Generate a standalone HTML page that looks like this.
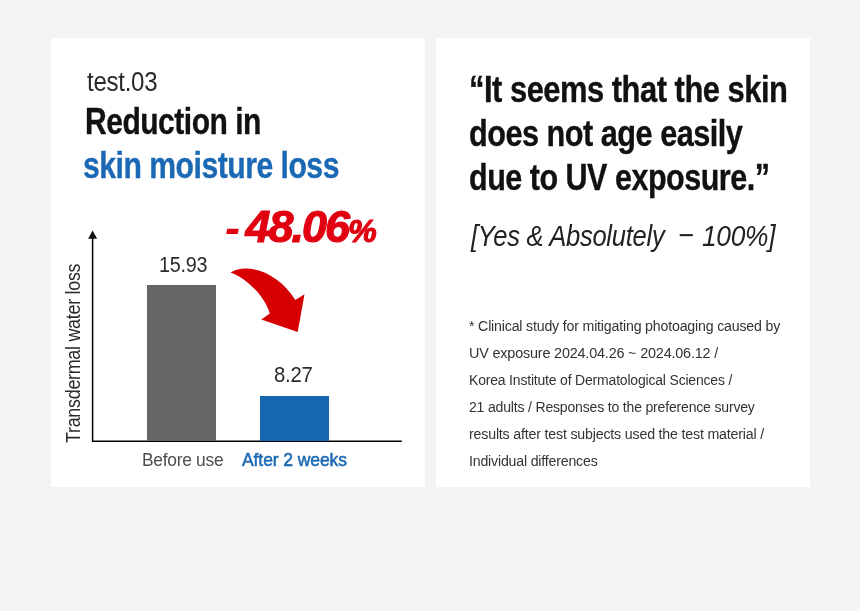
<!DOCTYPE html>
<html lang="en">
<head>
<meta charset="utf-8">
<title>test.03 Reduction in skin moisture loss</title>
<style>
  html, body { margin: 0; padding: 0; }
  body {
    width: 860px; height: 611px; overflow: hidden; position: relative;
    background: #f3f3f3;
    font-family: "Liberation Sans", "Noto Sans CJK KR", sans-serif;
    color: #111;
  }
  .card { position: absolute; top: 38px; height: 449px; width: 374px; background: #fff; }
  #card1 { left: 51px; }
  #card2 { left: 436px; }
  .t { position: absolute; white-space: nowrap; transform-origin: 0 0; line-height: 1; margin: 0; }
  #bar1 { position: absolute; left: 147px; top: 285px; width: 69px; height: 156px; background: #666; }
  #bar2 { position: absolute; left: 260px; top: 396px; width: 69px; height: 45px; background: #1567b2; }
  #axes { position: absolute; left: 0; top: 0; }
  #pct small { font-size: 32px; letter-spacing: -1px; }
  #pct .hy { display: inline-block; position: relative; top: 1px; -webkit-text-stroke: 0; }
  #kicker { left:87.48px; top:69.00px; font-size:27px; font-weight:400; font-style:normal; color:#2a2a2a; letter-spacing:-0.3px; transform:scaleX(0.8906);  }
  #h1a { left:84.90px; top:103.00px; font-size:37px; font-weight:700; font-style:normal; color:#111; letter-spacing:-0.6px; transform:scaleX(0.8112); -webkit-text-stroke:0.35px #111; }
  #h1b { left:83.17px; top:148.00px; font-size:36.5px; font-weight:700; font-style:normal; color:#1b69b4; letter-spacing:-0.6px; transform:scaleX(0.8263); -webkit-text-stroke:0.35px #1b69b4; }
  #pct { left:225.39px; top:205.00px; font-size:44.5px; font-weight:700; font-style:italic; color:#e10010; letter-spacing:-2.0px; transform:scaleX(1.0109); -webkit-text-stroke:1.1px #e10010; word-spacing:-3px; }
  #v1 { left:158.79px; top:254.00px; font-size:22.5px; font-weight:400; font-style:normal; color:#2a2a2a; letter-spacing:-0.3px; transform:scaleX(0.8783);  }
  #v2 { left:274.47px; top:364.00px; font-size:22.5px; font-weight:400; font-style:normal; color:#2a2a2a; letter-spacing:-0.3px; transform:scaleX(0.9037);  }
  #l1 { left:142.14px; top:450.00px; font-size:19px; font-weight:400; font-style:normal; color:#4d4d4d; letter-spacing:-0.3px; transform:scaleX(0.9146);  }
  #l2 { left:242.38px; top:450.00px; font-size:19px; font-weight:400; font-style:normal; color:#1b69b4; letter-spacing:-0.1px; transform:scaleX(0.9218); -webkit-text-stroke:0.55px #1b69b4; }
  #q1 { left:469.26px; top:71.00px; font-size:37px; font-weight:700; font-style:normal; color:#111; letter-spacing:-0.6px; transform:scaleX(0.8358); -webkit-text-stroke:0.35px #111; }
  #q2 { left:469.17px; top:115.00px; font-size:37px; font-weight:700; font-style:normal; color:#111; letter-spacing:-0.6px; transform:scaleX(0.8287); -webkit-text-stroke:0.35px #111; }
  #q3 { left:469.20px; top:159.00px; font-size:37px; font-weight:700; font-style:normal; color:#111; letter-spacing:-0.6px; transform:scaleX(0.8249); -webkit-text-stroke:0.35px #111; }
  #yesa { left:470.85px; top:222.00px; font-size:29px; font-weight:400; font-style:italic; color:#222; letter-spacing:-0.3px; transform:scaleX(0.8812);  }
  #yesb { left:677.50px; top:221.00px; font-size:29px; font-weight:400; font-style:italic; color:#222; letter-spacing:0px; transform:scaleX(0.9274);  }
  #yesc { left:701.53px; top:222.00px; font-size:29px; font-weight:400; font-style:italic; color:#222; letter-spacing:-0.3px; transform:scaleX(0.9080);  }
  #n1 { left:468.87px; top:318.00px; font-size:15.5px; font-weight:400; font-style:normal; color:#333; letter-spacing:-0.2px; transform:scaleX(0.9143);  }
  #n2 { left:469.37px; top:345.00px; font-size:15.5px; font-weight:400; font-style:normal; color:#333; letter-spacing:-0.2px; transform:scaleX(0.9295);  }
  #n3 { left:469.14px; top:372.00px; font-size:15.5px; font-weight:400; font-style:normal; color:#333; letter-spacing:-0.2px; transform:scaleX(0.9016);  }
  #n4 { left:469.19px; top:399.00px; font-size:15.5px; font-weight:400; font-style:normal; color:#333; letter-spacing:-0.2px; transform:scaleX(0.9051);  }
  #n5 { left:468.51px; top:426.00px; font-size:15.5px; font-weight:400; font-style:normal; color:#333; letter-spacing:-0.2px; transform:scaleX(0.9157);  }
  #n6 { left:469.00px; top:453.00px; font-size:15.5px; font-weight:400; font-style:normal; color:#333; letter-spacing:-0.2px; transform:scaleX(0.9123);  }
  #ylab { left: 63.3px; top: 443px; font-size: 20px; color: #2a2a2a; letter-spacing: -0.3px; transform: rotate(-90deg) scaleX(0.894); }
</style>
</head>
<body>
  <div class="card" id="card1"></div>
  <div class="card" id="card2"></div>

  <svg id="axes" width="860" height="611" viewBox="0 0 860 611">
    <path d="M92.6 237 V441.2 H401.8" fill="none" stroke="#000" stroke-width="1.5"/>
    <path d="M92.6 230.6 L97.1 238.8 H88.1 Z" fill="#111"/>
    <path id="arrow" fill="#d70000" d="M230.6 272.4 C247 262 278 272 295.3 299.9 L304.5 294.3 L297.7 332 L261.3 319.5 L269.8 313.6 C266 299 250 280 230.6 272.4 Z"/>
  </svg>

  <div id="bar1"></div>
  <div id="bar2"></div>
  <div class="t" id="ylab">Transdermal water loss</div>
  <div class="t" id="kicker">test.03</div>
  <h1 class="t" id="h1a">Reduction in</h1>
  <h1 class="t" id="h1b">skin moisture loss</h1>
  <div class="t" id="pct"><span class="hy">-</span> 48.06<small>%</small></div>
  <div class="t" id="v1">15.93</div>
  <div class="t" id="v2">8.27</div>
  <div class="t" id="l1">Before use</div>
  <div class="t" id="l2">After 2 weeks</div>
  <div class="t" id="q1">“It seems that the skin</div>
  <div class="t" id="q2">does not age easily</div>
  <div class="t" id="q3">due to UV exposure.”</div>
  <div class="t" id="yesa">[Yes &amp; Absolutely</div>
  <div class="t" id="yesb">−</div>
  <div class="t" id="yesc">100%]</div>
  <div class="t" id="n1">* Clinical study for mitigating photoaging caused by</div>
  <div class="t" id="n2">UV exposure 2024.04.26 ~ 2024.06.12 /</div>
  <div class="t" id="n3">Korea Institute of Dermatological Sciences /</div>
  <div class="t" id="n4">21 adults / Responses to the preference survey</div>
  <div class="t" id="n5">results after test subjects used the test material /</div>
  <div class="t" id="n6">Individual differences</div>
</body>
</html>
